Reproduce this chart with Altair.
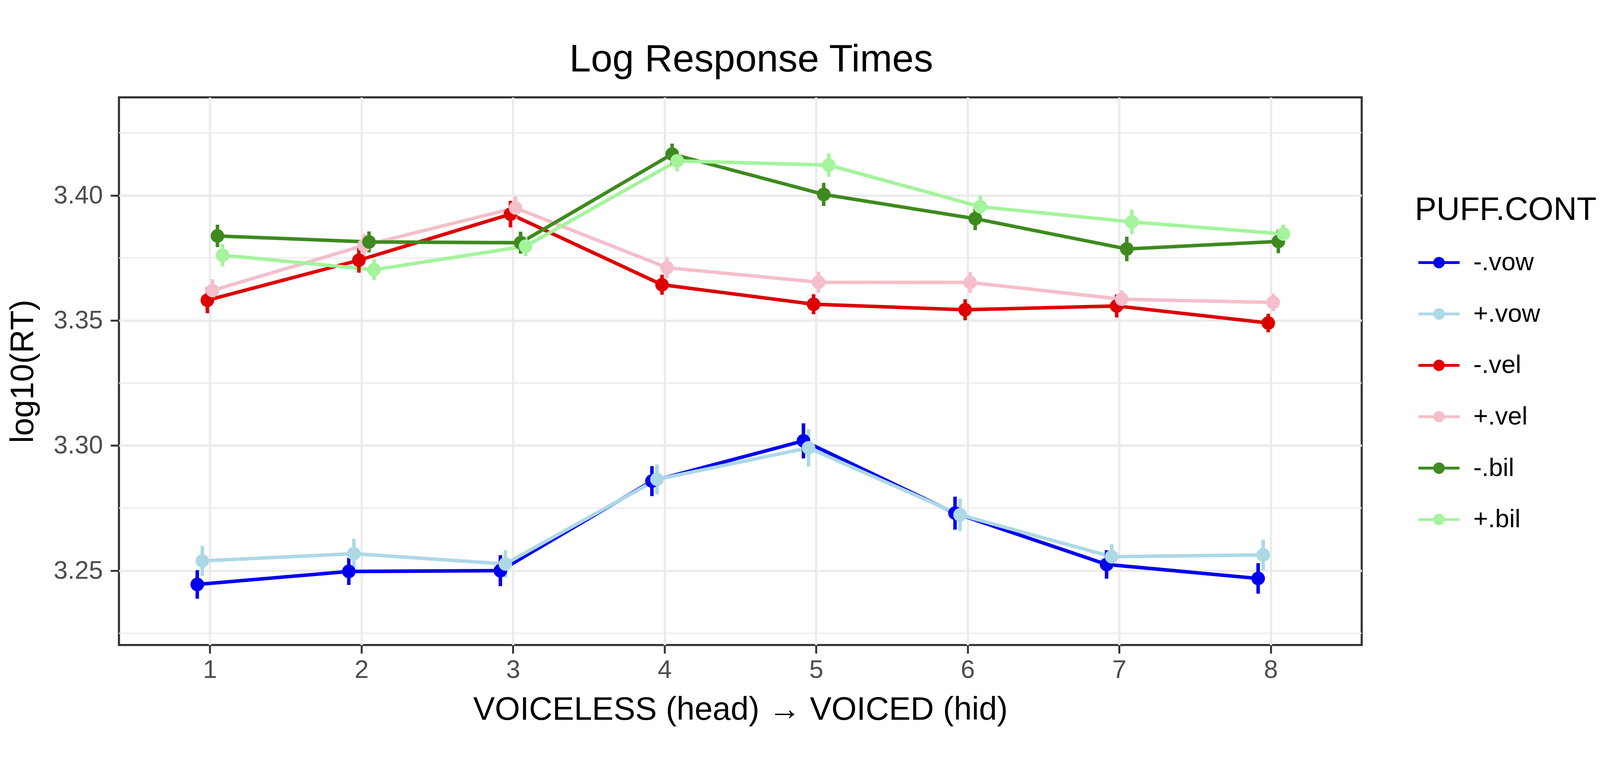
import math
import altair as alt
import pandas as pd

# ---------------- data ----------------
continuum = [1, 2, 3, 4, 5, 6, 7, 8]
series_names = ["-.vow", "+.vow", "-.vel", "+.vel", "-.bil", "+.bil"]
series_colors = ["#0000EE", "#ADD8E6", "#DD0000", "#F4BFCB", "#3F8A1F", "#A4F49C"]

mean_minus_vow = [3.2445, 3.2497, 3.2500, 3.2858, 3.3019, 3.2730, 3.2525, 3.2469]
mean_plus_vow = [3.2539, 3.2568, 3.2527, 3.2865, 3.2991, 3.2723, 3.2556, 3.2563]
mean_minus_vel = [3.3581, 3.3741, 3.3925, 3.3643, 3.3565, 3.3543, 3.3558, 3.3490]
mean_plus_vel = [3.3620, 3.3800, 3.3950, 3.3711, 3.3653, 3.3652, 3.3585, 3.3572]
mean_minus_bil = [3.3838, 3.3814, 3.3811, 3.4165, 3.4004, 3.3907, 3.3786, 3.3816]
mean_plus_bil = [3.3761, 3.3703, 3.3797, 3.4138, 3.4121, 3.3955, 3.3894, 3.3846]

se_minus_vow = [0.0057, 0.0054, 0.0062, 0.0060, 0.0070, 0.0066, 0.0057, 0.0061]
se_plus_vow = [0.0060, 0.0060, 0.0055, 0.0060, 0.0075, 0.0065, 0.0050, 0.0061]
se_minus_vel = [0.0052, 0.0050, 0.0053, 0.0040, 0.0040, 0.0042, 0.0046, 0.0037]
se_plus_vel = [0.0045, 0.0045, 0.0045, 0.0042, 0.0042, 0.0042, 0.0035, 0.0035]
se_minus_bil = [0.0045, 0.0042, 0.0044, 0.0042, 0.0046, 0.0046, 0.0049, 0.0047]
se_plus_bil = [0.0045, 0.0042, 0.0040, 0.0042, 0.0047, 0.0044, 0.0049, 0.0037]

y_major_ticks = [3.25, 3.30, 3.35, 3.40]
y_minor_breaks = [3.225, 3.275, 3.325, 3.375, 3.425]

means = [mean_minus_vow, mean_plus_vow, mean_minus_vel, mean_plus_vel, mean_minus_bil, mean_plus_bil]
ses = [se_minus_vow, se_plus_vow, se_minus_vel, se_plus_vel, se_minus_bil, se_plus_bil]

rows = []
for i, name in enumerate(series_names):
    for j, c in enumerate(continuum):
        rows.append({"series": name, "idx": i, "cont": c, "mean": means[i][j], "se": ses[i][j]})
df = pd.DataFrame(rows)
minor_df = pd.DataFrame({"v": y_minor_breaks})

DODGE = 0.2
FONT = "Liberation Sans"

xscale = alt.Scale(domain=[0.4, 8.6], nice=False, zero=False)
yscale = alt.Scale(domain=[3.2203, 3.4392], nice=False, zero=False)
xaxis = alt.Axis(values=continuum, format="d", title="VOICELESS (head) \u2192 VOICED (hid)",
                 labelAngle=0, labelPadding=12, titlePadding=32)
yaxis = alt.Axis(values=y_major_ticks, format=".2f", title="log10(RT)",
                 labelPadding=22, titlePadding=39)

stroke_scale = alt.Scale(domain=series_names, range=series_colors)
fill_scale = alt.Scale(domain=series_names, range=series_colors)

# legend key: a line with a dot on it (stroke + fill of the merged legend)
_dot = "M" + "L".join(
    f"{0.21 * math.cos(2 * math.pi * k / 24):.4f},{0.21 * math.sin(2 * math.pi * k / 24):.4f}"
    for k in range(24)) + "Z"
legend_symbol = "M-1,0L1,0" + _dot
legend = alt.Legend(title="PUFF.CONT", orient="none", legendX=3681, legendY=275,
                    symbolType=legend_symbol, symbolSize=13689, symbolStrokeWidth=8,
                    symbolOffset=6, labelOffset=35, rowPadding=47, titlePadding=40,
                    labelLimit=1000, titleLimit=2000,
                    titleFontSize=92, titleFont=FONT, titleFontWeight="normal", titleColor="black",
                    labelFontSize=72, labelFont=FONT, labelColor="black")

base = alt.Chart(df).transform_calculate(
    xd=f"datum.cont + (datum.idx - 2.5) * {DODGE} / 6",
    lo="datum.mean - datum.se",
    hi="datum.mean + datum.se",
)

minor = alt.Chart(minor_df).mark_rule(color="#EBEBEB", strokeWidth=3.5).encode(
    y=alt.Y("v:Q", scale=yscale, axis=yaxis)
)

lines = base.mark_line(strokeWidth=10).encode(
    x=alt.X("xd:Q", scale=xscale, axis=xaxis),
    y=alt.Y("mean:Q", scale=yscale, axis=yaxis),
    stroke=alt.Stroke("series:N", scale=stroke_scale, sort=series_names, legend=legend),
    detail="series:N",
)

errs = base.mark_rule(strokeWidth=10).encode(
    x=alt.X("xd:Q", scale=xscale, axis=xaxis),
    y=alt.Y("lo:Q", scale=yscale, axis=yaxis),
    y2="hi:Q",
    stroke=alt.Stroke("series:N", scale=stroke_scale, sort=series_names, legend=legend),
)

points = base.mark_circle(size=1500, opacity=1).encode(
    x=alt.X("xd:Q", scale=xscale, axis=xaxis),
    y=alt.Y("mean:Q", scale=yscale, axis=yaxis),
    fill=alt.Fill("series:N", scale=fill_scale, sort=series_names, legend=legend),
)

chart = alt.layer(minor, lines, errs, points).properties(
    width=3530,
    height=1556,
    background="white",
    padding={"left": 10, "top": 0, "right": 0, "bottom": 0},
    title=alt.Title("Log Response Times", fontSize=110, font=FONT, fontWeight="normal",
                    color="black", anchor="middle", baseline="top", offset=50, dx=31),
).configure_view(
    stroke="#333333", strokeWidth=6, fill="white"
).configure_axis(
    grid=True, gridColor="#EBEBEB", gridWidth=6.5, domain=False,
    tickColor="#333333", tickWidth=5.5, tickSize=24,
    labelFont=FONT, labelFontSize=72, labelColor="#4D4D4D",
    titleFont=FONT, titleFontSize=92, titleColor="black", titleFontWeight="normal",
)

chart.save("out.html", embed_options={"renderer": "svg", "actions": False})
